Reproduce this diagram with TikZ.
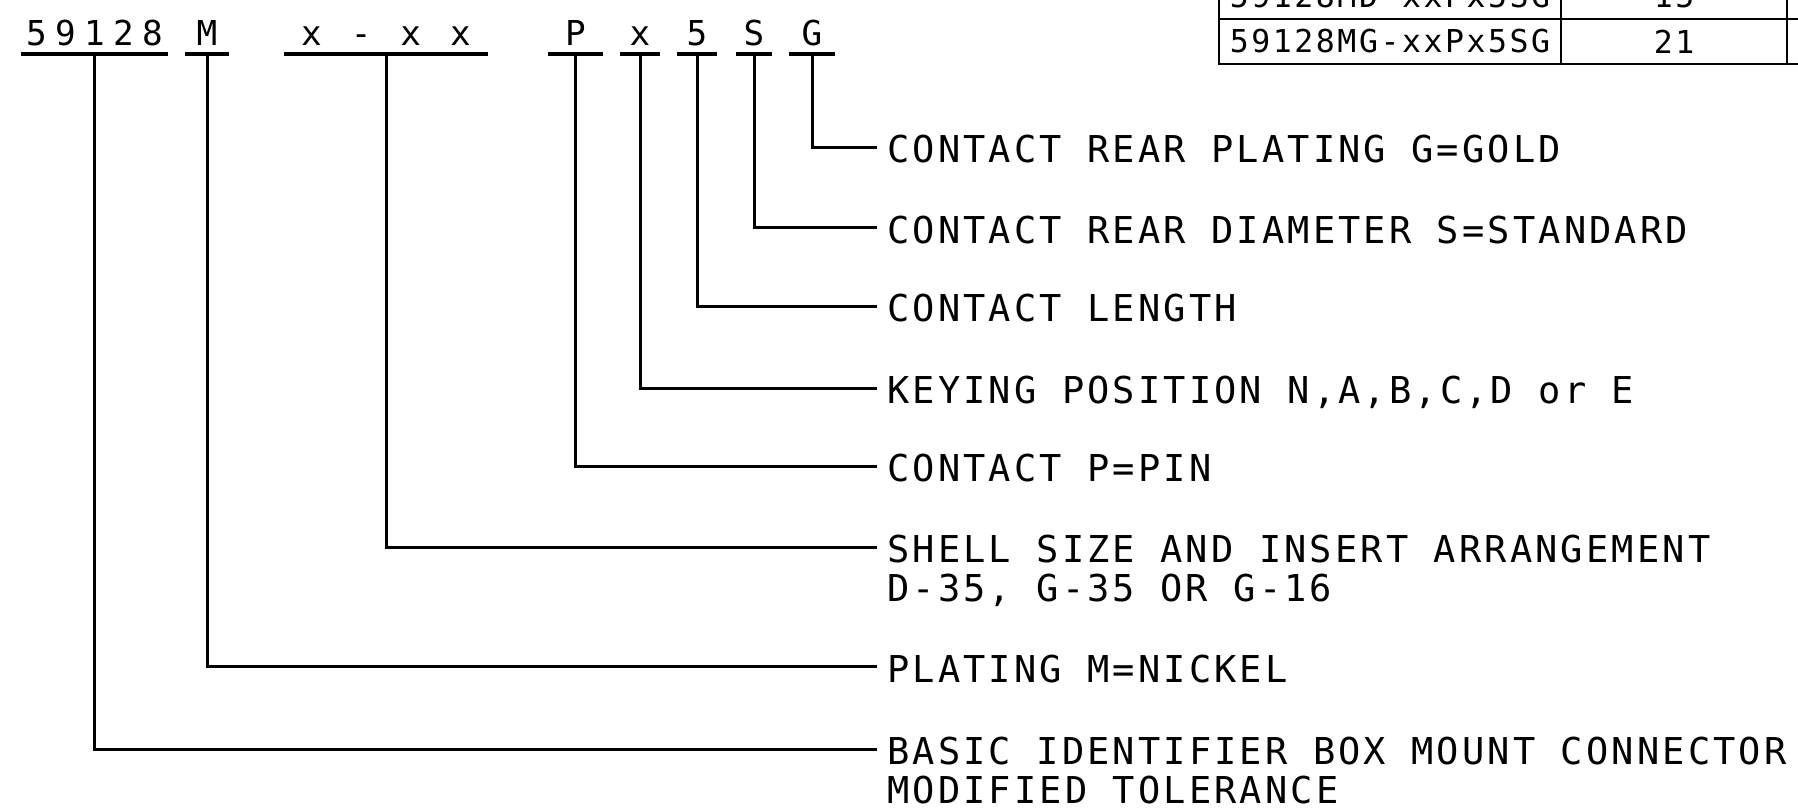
\documentclass[tikz,border=0pt]{standalone}
\usepackage{fontspec}
\usepackage{tikz}
\newfontfamily\descfont[LetterSpace=8.5]{DejaVu Sans Mono}
\newfontfamily\codefont[LetterSpace=24.3]{DejaVu Sans Mono}
\newfontfamily\tablefont[LetterSpace=8.1]{DejaVu Sans Mono}

\begin{document}
\begin{tikzpicture}[x=1pt, y=1pt,
    lead/.style={line width=3pt},
    uline/.style={line width=3.5pt},
    code/.style={font=\codefont\fontsize{34.3}{36}\selectfont, anchor=south, inner sep=0pt, text height=26pt, text depth=8pt},
    desc/.style={font=\descfont\fontsize{37}{38.3}\selectfont, anchor=west, inner xsep=10pt, inner ysep=0pt, text height=31pt, text depth=0pt},
    cell/.style={draw, line width=2pt, inner sep=0pt, minimum height=45pt, font=\tablefont\fontsize{31.5}{33}\selectfont}]
    \useasboundingbox (0, 0) rectangle (1798, 811);
    \clip (0, 0) rectangle (1798, 811);

    % 型号代码
    \node[code, minimum width=147pt] (c59128) at (94.5, 757) {59128};
    \node[code, minimum width=44pt] (cM) at (207, 757) {M};
    \node[code, minimum width=204pt] (cSize) at (386, 757) {x - x x};
    \node[code, minimum width=55pt] (cP) at (575.5, 757) {P};
    \node[code, minimum width=40pt] (cKey) at (640, 757) {x};
    \node[code, minimum width=40pt] (cLen) at (697, 757) {5};
    \node[code, minimum width=36pt] (cDia) at (754, 757) {S};
    \node[code, minimum width=46pt] (cGold) at (812, 757) {G};

    % 下划线
    \draw[uline] (c59128.south west) -- (c59128.south east);
    \draw[uline] (cM.south west) -- (cM.south east);
    \draw[uline] (cSize.south west) -- (cSize.south east);
    \draw[uline] (cP.south west) -- (cP.south east);
    \draw[uline] (cKey.south west) -- (cKey.south east);
    \draw[uline] (cLen.south west) -- (cLen.south east);
    \draw[uline] (cDia.south west) -- (cDia.south east);
    \draw[uline] (cGold.south west) -- (cGold.south east);

    % 说明文字
    \node[desc] (dGold) at (877, 663.7) {CONTACT REAR PLATING G=GOLD};
    \node[desc] (dDia) at (877, 583) {CONTACT REAR DIAMETER S=STANDARD};
    \node[desc] (dLen) at (877, 504.6) {CONTACT LENGTH};
    \node[desc] (dKey) at (877, 422.7) {KEYING POSITION N,A,B,C,D or E};
    \node[desc] (dP) at (877, 344.7) {CONTACT P=PIN};
    \node[desc] (dSize) at (877, 263.5) {SHELL SIZE AND INSERT ARRANGEMENT};
    \node[desc] (dSizeb) at (877, 225.2) {D-35, G-35 OR G-16};
    \node[desc] (dM) at (877, 144) {PLATING M=NICKEL};
    \node[desc] (dBasic) at (877, 61.6) {BASIC IDENTIFIER BOX MOUNT CONNECTOR};
    \node[desc] (dBasicb) at (877, 23.3) {MODIFIED TOLERANCE};

    % 引线
    \draw[lead] (cGold.south) |- (dGold.west);
    \draw[lead] (cDia.south) |- (dDia.west);
    \draw[lead] (cLen.south) |- (dLen.west);
    \draw[lead] (cKey.south) |- (dKey.west);
    \draw[lead] (cP.south) |- (dP.west);
    \draw[lead] (cSize.south) |- (dSize.west);
    \draw[lead] (cM.south) |- (dM.west);
    \draw[lead] (c59128.south) |- (dBasic.west);

    % 表格
    \node[cell, minimum width=342pt] (tMD) at (1390, 814.5) {59128MD-xxPx5SG};
    \node[cell, minimum width=226pt] (tMDqty) at (1674, 814.5) {15};
    \node[cell, minimum width=200pt] (tMDrest) at (1887, 814.5) {};
    \node[cell, minimum width=342pt] (tMG) at (1390, 769.5) {59128MG-xxPx5SG};
    \node[cell, minimum width=226pt] (tMGqty) at (1674, 769.5) {21};
    \node[cell, minimum width=200pt] (tMGrest) at (1887, 769.5) {};
\end{tikzpicture}
\end{document}
